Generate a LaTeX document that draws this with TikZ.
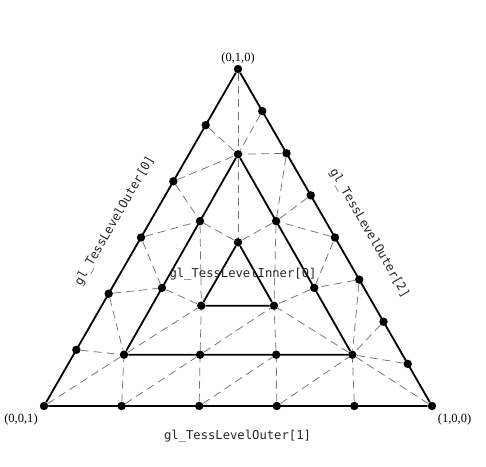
\documentclass[tikz,border=0pt]{standalone}
\usepackage{fontspec}
\setmainfont{Liberation Serif}
\setmonofont{DejaVu Sans Mono}
\usetikzlibrary{calc}

\begin{document}
\begin{tikzpicture}[x=1pt,y=1pt,
	dot/.style={circle,fill=black,inner sep=0pt,minimum size=8.4pt},
	edge/.style={line width=1.8pt},
	tess/.style={black!55,line width=0.75pt,dash pattern=on 8pt off 5pt},
	bary/.style={font=\fontsize{12.5}{14}\selectfont},
	level/.style={black!85,font=\ttfamily\fontsize{12.2}{14}\selectfont}]
	\useasboundingbox (0,0) rectangle (486,466);

	% outer triangle
	\node[dot] (A) at (44,60) {};
	\node[dot] (B) at (432,60) {};
	\node[dot] (C) at (238,397) {};
	\foreach \i in {1,...,4} \node[dot] (b\i) at ($(A)!\i/5!(B)$) {};
	\foreach \i in {1,...,5} \node[dot] (l\i) at ($(C)!\i/6!(A)$) {};
	\foreach \i in {1,...,7} \node[dot] (r\i) at ($(C)!\i/8!(B)$) {};

	% first inner ring
	\node[dot] (P) at (124,111.3) {};
	\node[dot] (Q) at (352.3,111.3) {};
	\node[dot] (R) at (238,311.7) {};
	\foreach \i in {1,2} {
		\node[dot] (p\i) at ($(P)!\i/3!(Q)$) {};
		\node[dot] (q\i) at ($(Q)!\i/3!(R)$) {};
		\node[dot] (s\i) at ($(R)!\i/3!(P)$) {};
	}

	% innermost ring
	\node[dot] (S) at (201.3,160.3) {};
	\node[dot] (T) at (274,160.3) {};
	\node[dot] (U) at (238,223.7) {};

	% triangulation
	\foreach \a/\b in {C/R,l1/R,l2/R,l2/s1,l3/s1,l3/s2,l4/s2,l4/P,l5/P,A/P,
		b1/P,b1/p1,b2/p1,b2/p2,b3/p2,b3/Q,b4/Q,B/Q,
		r7/Q,r6/Q,r5/Q,r5/q1,r4/q1,r4/q2,r3/q2,r2/q2,r2/R,r1/R,
		R/U,s1/U,q2/U,s1/S,s2/S,P/S,p1/S,p1/T,p2/T,Q/T,q1/T,q2/T}
		\draw[tess] (\a) -- (\b);

	\draw[edge] (A) -- (B) -- (C) -- (A);
	\draw[edge] (P) -- (Q) -- (R) -- (P);
	\draw[edge] (S) -- (T) -- (U) -- (S);

	\node[bary] (top) at (238,407.5) {(0,1,0)};
	\node[bary] (left) at (21,47) {(0,0,1)};
	\node[bary] (right) at (454.5,47) {(1,0,0)};

	\node[level,rotate=60] (outerzero) at (115,245.2) {gl\_TessLevelOuter[0]};
	\node[level] (outerone) at (237.5,29.3) {gl\_TessLevelOuter[1]};
	\node[level,rotate=-60] (outertwo) at (369.2,232.7) {gl\_TessLevelOuter[2]};
	\node[level] (innerzero) at (243,191.7) {gl\_TessLevelInner[0]};
\end{tikzpicture}
\end{document}
